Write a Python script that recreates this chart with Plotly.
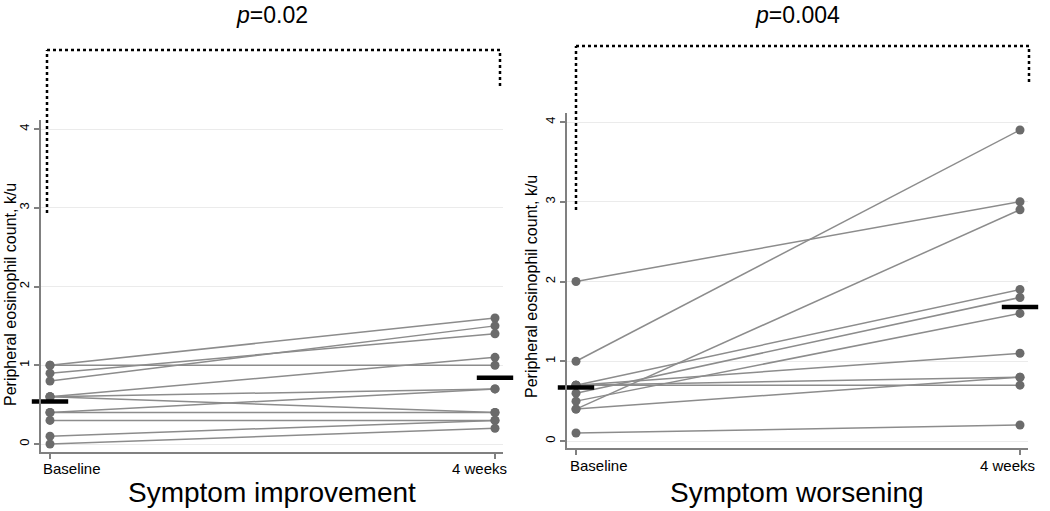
import plotly.graph_objects as go

# ---------------- data ----------------
time_labels = ["Baseline", "4 weeks"]

improve_baseline = [1.0, 0.9, 0.8, 1.0, 0.6, 0.6, 0.6, 0.4, 0.4, 0.3, 0.1, 0.0]
improve_week4 = [1.6, 1.4, 1.5, 1.0, 1.1, 0.7, 0.4, 0.7, 0.4, 0.3, 0.3, 0.2]
improve_mean = [0.54, 0.84]

worsen_baseline = [2.0, 1.0, 0.4, 0.7, 0.6, 0.5, 0.7, 0.7, 0.7, 0.4, 0.1]
worsen_week4 = [3.0, 3.9, 2.9, 1.9, 1.8, 1.6, 1.1, 0.8, 0.7, 0.8, 0.2]
worsen_mean = [0.67, 1.68]

panel_titles = ["Symptom improvement", "Symptom worsening"]
p_values = ["0.02", "0.004"]
y_title = "Peripheral eosinophil count, k/u"
y_ticks = [0, 1, 2, 3, 4]

W, H = 1050, 511
FONT = "Liberation Sans, Arial, Helvetica, sans-serif"
LINE_C = "#8c8c8c"
DOT_C = "#6b6b6b"
AXIS_C = "#808080"


def px(x):
    return x / W


def py(y):
    return (H - y) / H


fig = go.Figure()

panels = [
    dict(base=improve_baseline, wk=improve_week4, mean=improve_mean, xa="x", ya="y"),
    dict(base=worsen_baseline, wk=worsen_week4, mean=worsen_mean, xa="x2", ya="y2"),
]

for p in panels:
    xs, ys = [], []
    for b, w in zip(p["base"], p["wk"]):
        xs += [0, 1, None]
        ys += [b, w, None]
    fig.add_trace(go.Scatter(
        x=xs, y=ys, mode="lines+markers", xaxis=p["xa"], yaxis=p["ya"],
        line=dict(color=LINE_C, width=1.5),
        marker=dict(color=DOT_C, size=9),
        cliponaxis=False, showlegend=False, hoverinfo="skip"))
    fig.add_trace(go.Scatter(
        x=[0, 1], y=p["mean"], mode="markers", xaxis=p["xa"], yaxis=p["ya"],
        marker=dict(symbol="line-ew", size=26, line=dict(color="black", width=4.5)),
        cliponaxis=False, showlegend=False, hoverinfo="skip"))

common_x = dict(showline=True, linecolor=AXIS_C, linewidth=1.5, ticks="outside",
                ticklen=5, tickwidth=1.5, tickcolor=AXIS_C, tickvals=[0, 1],
                showticklabels=False, showgrid=False, zeroline=False, fixedrange=True)
common_y = dict(showline=True, linecolor=AXIS_C, linewidth=1.5, ticks="outside",
                ticklen=5, tickwidth=1.5, tickcolor=AXIS_C, tickvals=y_ticks,
                tickangle=-90, tickfont=dict(size=13, color="black", family=FONT),
                showgrid=True, gridcolor="#ebebeb", gridwidth=1, zeroline=False,
                fixedrange=True)

fig.update_layout(
    width=W, height=H, margin=dict(l=0, r=0, t=0, b=0),
    paper_bgcolor="white", plot_bgcolor="white",
    font=dict(family=FONT, color="black"),
    xaxis=dict(common_x, domain=[px(41), px(503)], range=[-9 / 445, 1 + 8 / 445], anchor="y"),
    yaxis=dict(common_y, domain=[py(452), py(120)], range=[-8 / 78.75, 4 + 9 / 78.75], anchor="x"),
    xaxis2=dict(common_x, domain=[px(567), px(1028)], range=[-9 / 444, 1 + 8 / 444], anchor="y2"),
    yaxis2=dict(common_y, domain=[py(448), py(113)], range=[-7 / 79.75, 4 + 9 / 79.75], anchor="x2"),
)

annotations = []
# x labels
for xl, xr, yl in [(41, 509, 468), (568, 1037, 465)]:
    annotations.append(dict(text=time_labels[0], x=px(xl), y=py(yl), xref="paper", yref="paper",
                            xanchor="left", yanchor="middle", showarrow=False,
                            font=dict(size=15)))
    annotations.append(dict(text=time_labels[1], x=px(xr), y=py(yl), xref="paper", yref="paper",
                            xanchor="right", yanchor="middle", showarrow=False,
                            font=dict(size=15)))
# y titles
for xc, yc in [(10, 295), (531, 287)]:
    annotations.append(dict(text=y_title, x=px(xc), y=py(yc), xref="paper", yref="paper",
                            xanchor="center", yanchor="middle", textangle=-90, showarrow=False,
                            font=dict(size=16)))
# panel titles and p-values
for xc, t, pv in [(272, panel_titles[0], p_values[0]), (797, panel_titles[1], p_values[1])]:
    annotations.append(dict(text=t, x=px(xc), y=py(492), xref="paper", yref="paper",
                            xanchor="center", yanchor="middle", showarrow=False,
                            font=dict(size=28)))
    annotations.append(dict(text="<i>p</i>=" + pv, x=px(xc), y=py(15), xref="paper", yref="paper",
                            xanchor="center", yanchor="middle", showarrow=False,
                            font=dict(size=23)))
fig.update_layout(annotations=annotations)

# significance brackets (dotted)
dash = dict(color="black", width=2.5, dash="3px,3px")
shapes = []
for xl, xr, ytop, yl_bot, yr_bot in [(47, 500, 50, 213, 86), (576, 1029, 46, 210, 82)]:
    shapes.append(dict(type="line", xref="paper", yref="paper", x0=px(xl), x1=px(xl),
                       y0=py(yl_bot), y1=py(ytop), line=dash))
    shapes.append(dict(type="line", xref="paper", yref="paper", x0=px(xl), x1=px(xr),
                       y0=py(ytop), y1=py(ytop), line=dash))
    shapes.append(dict(type="line", xref="paper", yref="paper", x0=px(xr), x1=px(xr),
                       y0=py(yr_bot), y1=py(ytop), line=dash))
fig.update_layout(shapes=shapes)

fig.write_html(
    "out.html",
    config={"displayModeBar": False},
    post_script="document.body.style.margin='0';document.body.style.padding='0';",
)
